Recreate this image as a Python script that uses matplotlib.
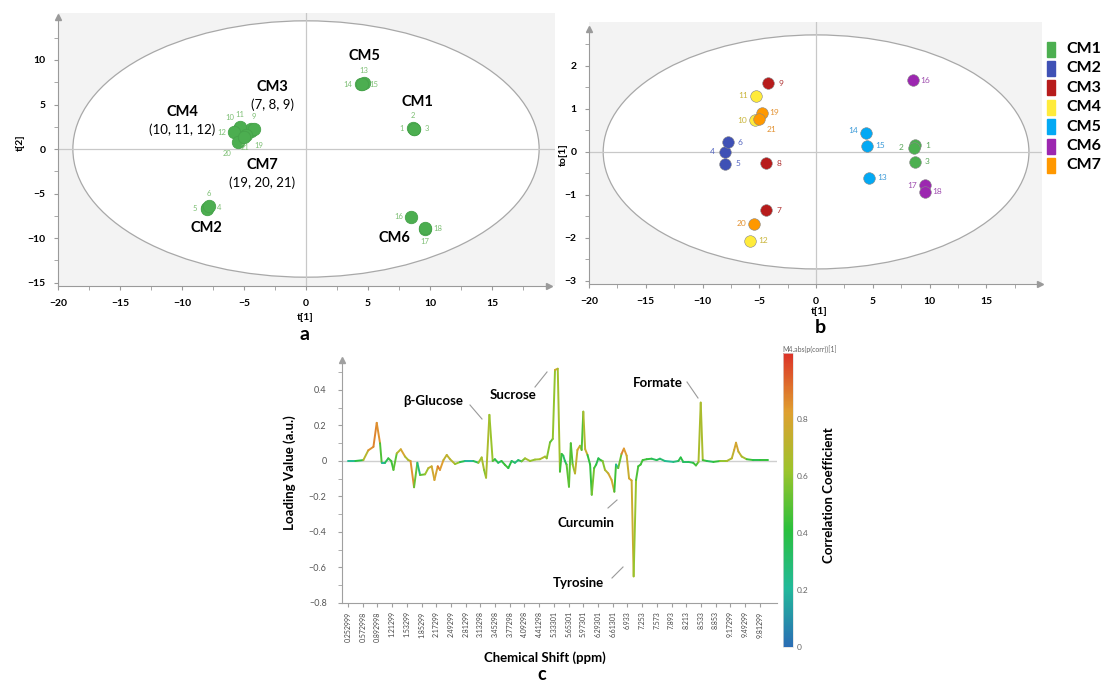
import numpy as np
import matplotlib
matplotlib.use('Agg')
import matplotlib.pyplot as plt
from matplotlib.patches import Ellipse, Rectangle
from matplotlib.collections import LineCollection
from matplotlib.colors import LinearSegmentedColormap, Normalize
from matplotlib.cm import ScalarMappable

plt.rcParams['font.family'] = ['Lato', 'DejaVu Sans']

W, H = 1103, 686

# ---- scores (samples 1..21) ----
sample_id = list(range(1, 22))
group = ['CM1'] * 3 + ['CM2'] * 3 + ['CM3'] * 3 + ['CM4'] * 3 + ['CM5'] * 3 + ['CM6'] * 3 + ['CM7'] * 3
t1 = [8.7, 8.6, 8.7, -8.0, -8.0, -7.8, -4.4, -4.4, -4.2, -5.4, -5.3, -5.8,
      4.7, 4.4, 4.5, 8.5, 9.6, 9.6, -4.8, -5.5, -5.0]
t2 = [2.3, 2.4, 2.3, -6.6, -6.7, -6.4, 2.0, 2.3, 2.2, 2.3, 2.5, 1.9,
      7.4, 7.3, 7.3, -7.6, -9.0, -8.9, 1.6, 0.8, 1.4]
to1 = [0.15, 0.1, -0.23, 0.0, -0.28, 0.23, -1.35, -0.26, 1.6, 0.74, 1.3, -2.07,
       -0.6, 0.44, 0.14, 1.67, -0.77, -0.93, 0.91, -1.67, 0.77]

groups = ['CM1', 'CM2', 'CM3', 'CM4', 'CM5', 'CM6', 'CM7']
group_members_a = {'CM5': '', 'CM1': '', 'CM3': '(7, 8, 9)', 'CM4': '(10, 11, 12)',
                   'CM7': '(19, 20, 21)', 'CM2': '', 'CM6': ''}

# T2 ellipse half axes
ell_a = (18.8, 14.4)
ell_b = (18.75, 2.72)

# ---- loadings (variable index, loading, |p(corr)|) ----
var_index = [0, 4, 8.3, 11, 13.8, 15.6, 17.4, 18.3, 20.1, 21.9, 23.5, 24.7, 26.5, 28.7, 31, 32.8, 34,
             35.9, 37.7, 39.2, 41.9, 43.7, 45.5, 47, 48.8, 50, 51.9, 53.7, 55.5, 58.2, 60.9, 63.7,
             68.2, 70.9, 72.7, 74.0, 75.1, 76.9, 78.7, 79.9, 81.7, 83.5, 85.4, 87.2, 89, 90.8, 92.6,
             94.4, 96.3, 99, 101.7, 104.4, 107.2, 108.1, 109.9, 111.4, 112.6, 114.1, 115.3, 116.2,
             117.1, 118, 118.9, 120.2, 121.2, 122.2, 123.5, 124.8, 126.2, 127.1, 128.0, 129, 130.3,
             131.7, 132.6, 133.9, 135, 136.2, 137.4, 138.5, 139.8, 141.6, 143.4, 144.9, 145.8, 147,
             148.8, 150.1, 151.6, 152.9, 154.3, 155.4, 156.7, 157.9, 159.2, 160.3, 162.5, 165.2,
             167.9, 169.7, 172.4, 177, 179.7, 181, 182.4, 185.1, 187.8, 189.3, 190.7, 191.9, 193,
             195.2, 198.8, 202.5, 206.1, 208.8, 210.1, 211.1, 212.4, 214.2, 216.9, 220.6, 224.2, 228.7]
loading = [0.0, 0.0, 0.005, 0.06, 0.08, 0.215, 0.10, -0.01, -0.01, 0.015, 0.0, -0.05, 0.043, 0.066,
           0.025, 0.005, 0.0, -0.148, -0.01, -0.079, -0.075, -0.04, -0.03, -0.107, -0.03, -0.05,
           0.005, 0.034, 0.01, -0.017, -0.006, 0.0, 0.0, -0.01, 0.02, -0.05, -0.094, 0.26, 0.0,
           0.01, -0.01, 0.0, -0.022, -0.04, 0.0, -0.01, 0.005, -0.002, 0.015, 0.0, 0.008, 0.01,
           0.025, 0.015, 0.105, 0.125, 0.513, 0.52, -0.06, 0.04, 0.03, 0.0, -0.02, -0.145, 0.1,
           -0.02, -0.07, 0.062, 0.086, 0.062, 0.278, 0.067, 0.034, -0.02, -0.19, -0.04, -0.02,
           0.015, 0.005, 0.0, -0.05, -0.07, -0.107, -0.173, -0.02, -0.04, 0.04, 0.07, 0.03, -0.098,
           -0.11, -0.65, -0.107, -0.03, -0.02, 0.005, 0.01, 0.013, 0.005, 0.013, 0.0, -0.005, 0.0,
           0.02, -0.005, -0.005, -0.01, -0.025, -0.005, 0.329, 0.005, 0.0, -0.005, 0.0, 0.0, 0.015,
           0.062, 0.103, 0.053, 0.025, 0.01, 0.005, 0.005, 0.005]
corr = [0.2, 0.25, 0.55, 0.85, 0.85, 0.9, 0.8, 0.15, 0.25, 0.45, 0.45, 0.45, 0.55, 0.85, 0.75, 0.6,
        0.75, 0.95, 0.1, 0.45, 0.6, 0.65, 0.8, 0.75, 0.85, 0.95, 0.7, 0.75, 0.7, 0.7, 0.5, 0.25,
        0.15, 0.55, 0.7, 0.6, 0.55, 0.78, 0.45, 0.5, 0.25, 0.4, 0.45, 0.45, 0.35, 0.3, 0.25, 0.4,
        0.7, 0.6, 0.6, 0.65, 0.7, 0.6, 0.55, 0.45, 0.75, 0.82, 0.45, 0.45, 0.4, 0.25, 0.45, 0.55,
        0.45, 0.5, 0.7, 0.75, 0.82, 0.5, 0.45, 0.9, 0.6, 0.25, 0.6, 0.5, 0.4, 0.35, 0.4, 0.5, 0.65,
        0.75, 0.82, 0.75, 0.15, 0.25, 0.8, 0.95, 0.7, 0.8, 0.8, 0.72, 0.5, 0.45, 0.45, 0.45, 0.45,
        0.4, 0.3, 0.4, 0.2, 0.25, 0.3, 0.45, 0.35, 0.3, 0.4, 0.45, 0.5, 0.82, 0.5, 0.4, 0.3, 0.55,
        0.65, 0.7, 0.75, 0.82, 0.75, 0.7, 0.6, 0.3, 0.45, 0.4]

shift_labels = ['0.252999', '0.572998', '0.892998', '1.21299', '1.53299', '1.85299', '2.17299',
                '2.49299', '2.81299', '3.13298', '3.45298', '3.77298', '4.09298', '4.41298',
                '5.33301', '5.65301', '5.97301', '6.29301', '6.61301', '6.933', '7.253', '7.573',
                '7.893', '8.213', '8.533', '8.853', '9.17299', '9.49299', '9.81299']

metabolites = ['β-Glucose', 'Sucrose', 'Formate', 'Curcumin', 'Tyrosine']

# ---- styling ----
colors = {'CM1': '#4caf50', 'CM2': '#3f51b5', 'CM3': '#b71c1c', 'CM4': '#ffeb3b',
          'CM5': '#03a9f4', 'CM6': '#9c27b0', 'CM7': '#ff9800'}
label_colors = {'CM1': '#5aa55a', 'CM2': '#5566c0', 'CM3': '#b03535', 'CM4': '#c9b53a',
                'CM5': '#3a9ad8', 'CM6': '#a050b0', 'CM7': '#e39232'}
green_a = '#4cae50'

U, D, L, R = (0, 9), (0, -9), (-9, 0), (9, 0)
offs_a = {1: L, 2: U, 3: R, 4: R, 5: L, 6: U, 9: U, 10: (-7, 8), 11: U, 12: L,
          13: U, 14: L, 15: R, 16: L, 17: D, 18: R, 19: (9, -8), 20: (-8, -8), 21: (1, -8)}
offs_b = {1: R, 2: L, 3: R, 4: L, 5: R, 6: R, 7: R, 8: R, 9: R, 10: L, 11: L, 12: R,
          13: R, 14: (-9, 2), 15: R, 16: R, 17: L, 18: R, 19: R, 20: L, 21: (9, -8)}

cmap = LinearSegmentedColormap.from_list('corr', [
    (0.0, '#2a6db5'), (0.2, '#22b99a'), (0.4, '#2bc03c'),
    (0.6, '#9cc42c'), (0.8, '#dfa030'), (1.0, '#dc3228')])
norm = Normalize(0, 1.03)


def box(l, t, r, b):
    return [l / W, 1 - b / H, (r - l) / W, (b - t) / H]


def score_axes(ax, xlim, ylim, ell, yticks, yminor, xarrow, yarrow):
    ax.set_facecolor('#f3f3f3')
    ax.add_patch(Ellipse((0, 0), 2 * ell[0], 2 * ell[1], fc='white', ec='#a8a8a8', lw=0.9, zorder=0.5))
    ax.axhline(0, color='#c8c8c8', lw=0.9, zorder=0.6)
    ax.axvline(0, color='#c8c8c8', lw=0.9, zorder=0.6)
    ax.set_xlim(*xlim)
    ax.set_ylim(*ylim)
    for s in ['top', 'right']:
        ax.spines[s].set_visible(False)
    for s in ['left', 'bottom']:
        ax.spines[s].set_color('#9a9a9a')
        ax.spines[s].set_linewidth(0.8)
    ax.spines['bottom'].set_bounds(xlim[0], xarrow)
    ax.spines['left'].set_bounds(ylim[0], yarrow)
    ax.plot([xarrow], [ylim[0]], marker='>', ms=5, color='#9a9a9a', clip_on=False, zorder=5)
    ax.plot([xlim[0]], [yarrow], marker='^', ms=5, color='#9a9a9a', clip_on=False, zorder=5)
    ax.set_xticks([-20, -15, -10, -5, 0, 5, 10, 15])
    ax.set_xticks(np.arange(-20, 20, 2.5), minor=True)
    ax.set_yticks(yticks)
    ax.set_yticks(yminor, minor=True)
    ax.tick_params(which='both', direction='out', length=3, color='#9a9a9a', labelsize=7.5, pad=6)
    plt.setp(ax.get_xticklabels() + ax.get_yticklabels(), fontweight='bold')


fig = plt.figure(figsize=(W / 100, H / 100), dpi=100)

# ---- panel a ----
ax_a = fig.add_axes(box(58, 13, 555, 286))
score_axes(ax_a, (-20, 20.08), (-15.39, 15.28), ell_a, [-15, -10, -5, 0, 5, 10],
           np.arange(-15, 15, 2.5), 19.6, 14.8)
ax_a.scatter(t1, t2, s=80, color=green_a, edgecolor='#46a24a', lw=0.6, zorder=3)
for i, x, y in zip(sample_id, t1, t2):
    if i in offs_a:
        ax_a.annotate(str(i), (x, y), xytext=offs_a[i], textcoords='offset points',
                      ha='center', va='center', fontsize=5.5, color='#7dbf74', zorder=4)
grp_text_pos = {'CM5': (4.68, 10.45), 'CM1': (8.95, 5.28), 'CM3': (-2.74, 6.97),
                'CM4': (-10.0, 4.16), 'CM7': (-3.55, -1.8), 'CM2': (-8.0, -8.88), 'CM6': (7.1, -10.0)}
for g, (x, y) in grp_text_pos.items():
    ax_a.text(x, y, g, ha='center', va='center', fontsize=10.5, fontweight='bold', zorder=5)
    if group_members_a[g]:
        ax_a.text(x, y - 2.0, group_members_a[g], ha='center', va='center', fontsize=9.5, zorder=5)
fig.text(305 / W, 1 - 317 / H, 't[1]', ha='center', va='center', fontsize=7.5, fontweight='bold')
fig.text(20 / W, 1 - 143 / H, 't[2]', ha='center', va='center', fontsize=7.5, fontweight='bold', rotation=90)
fig.text(305 / W, 1 - 334 / H, 'a', ha='center', va='center', fontsize=14, fontweight='bold')

# ---- panel b ----
ax_b = fig.add_axes(box(589, 22, 1042, 284))
score_axes(ax_b, (-20, 19.9), (-3.07, 3.02), ell_b, [-3, -2, -1, 0, 1, 2],
           np.arange(-3, 3, 0.5), 19.7, 2.85)
for i, x, y, g in zip(sample_id, t1, to1, group):
    ax_b.scatter([x], [y], s=70, color=colors[g], edgecolor='#888888', lw=0.4, zorder=3)
    ax_b.annotate(str(i), (x, y), xytext=offs_b[i], textcoords='offset points',
                  ha='center', va='center', fontsize=6, color=label_colors[g], zorder=4)
fig.text(819 / W, 1 - 312 / H, 't[1]', ha='center', va='center', fontsize=7.5, fontweight='bold')
fig.text(563 / W, 1 - 155 / H, 'to[1]', ha='center', va='center', fontsize=7.5, fontweight='bold', rotation=90)
fig.text(820 / W, 1 - 328 / H, 'b', ha='center', va='center', fontsize=14, fontweight='bold')

# legend
for k, g in enumerate(groups):
    yc = 49 + k * 19.4
    fig.add_artist(Rectangle((1047 / W, 1 - (yc + 7.5) / H), 8 / W, 15 / H,
                             transform=fig.transFigure, color=colors[g]))
    fig.text(1066 / W, 1 - yc / H, g, ha='left', va='center', fontsize=11.5, fontweight='bold')

# ---- panel c ----
ax_c = fig.add_axes(box(342, 360, 777, 603))
ax_c.set_xlim(-3.3, 233.4)
ax_c.set_ylim(-0.8, 0.569)
ax_c.axhline(0, color='#cfcfcf', lw=1.0, zorder=1)
pts = np.column_stack([var_index, loading])
segs = np.stack([pts[:-1], pts[1:]], axis=1)
seg_c = (np.array(corr[:-1]) + np.array(corr[1:])) / 2
lc = LineCollection(segs, colors=cmap(norm(seg_c)), linewidths=1.4, zorder=2, capstyle='round')
ax_c.add_collection(lc)
for s in ['top', 'right']:
    ax_c.spines[s].set_visible(False)
for s in ['left', 'bottom']:
    ax_c.spines[s].set_color('#a0a0a0')
    ax_c.spines[s].set_linewidth(0.8)
ax_c.plot([-3.3], [0.569], marker='^', ms=4.5, color='#a0a0a0', clip_on=False)
ax_c.set_yticks([-0.8, -0.6, -0.4, -0.2, 0, 0.2, 0.4])
ax_c.set_yticklabels(['\u22120.8', '\u22120.6', '\u22120.4', '\u22120.2', '0', '0.2', '0.4'])
ax_c.set_yticks(np.arange(-0.8, 0.55, 0.1), minor=True)
ax_c.set_xticks(np.arange(len(shift_labels)) * 8)
ax_c.set_xticklabels(shift_labels, rotation=90, fontsize=5)
ax_c.tick_params(axis='y', which='both', length=3, color='#a0a0a0', labelsize=6.5, labelcolor='#555555', pad=8)
ax_c.tick_params(axis='x', length=3, color='#a0a0a0', labelcolor='#444444', pad=3)

ann = [('β-Glucose', (433, 401), (470, 405), (482, 419)),
       ('Sucrose', (513, 395), (535, 387), (547, 372)),
       ('Formate', (658, 383), (687, 382), (698, 398)),
       ('Curcumin', (586, 523), (608, 508), (617, 500)),
       ('Tyrosine', (578, 583), (612, 578), (623, 567))]
for name, (tx, ty), (x0, y0), (x1, y1) in ann:
    fig.text(tx / W, 1 - ty / H, name, ha='center', va='center', fontsize=9.5, fontweight='bold')
    fig.add_artist(plt.Line2D([x0 / W, x1 / W], [1 - y0 / H, 1 - y1 / H], color='#9a9a9a', lw=0.8))

fig.text(290 / W, 1 - 473 / H, 'Loading Value (a.u.)', ha='center', va='center', fontsize=9.5,
         fontweight='bold', rotation=90)
fig.text(545 / W, 1 - 658 / H, 'Chemical Shift (ppm)', ha='center', va='center', fontsize=9.5,
         fontweight='bold')
fig.text(542 / W, 1 - 675 / H, 'c', ha='center', va='center', fontsize=13, fontweight='bold')

# colorbar
cax = fig.add_axes(box(783, 353, 793, 647))
cb = fig.colorbar(ScalarMappable(norm=norm, cmap=cmap), cax=cax)
cb.set_ticks([0, 0.2, 0.4, 0.6, 0.8])
cb.set_ticklabels(['0', '0.2', '0.4', '0.6', '0.8'])
cb.ax.tick_params(length=0, labelsize=6, labelcolor='#666666', pad=3)
cb.outline.set_edgecolor('#dddddd')
cb.outline.set_linewidth(0.5)
fig.text(782 / W, 1 - 349 / H, 'M4.abs(p(corr))[1]', ha='left', va='center', fontsize=5, color='#666666')
fig.text(829 / W, 1 - 495 / H, 'Correlation Coefficient', ha='center', va='center', fontsize=9.5,
         fontweight='bold', rotation=90)

fig.savefig('out.png', dpi=100)
